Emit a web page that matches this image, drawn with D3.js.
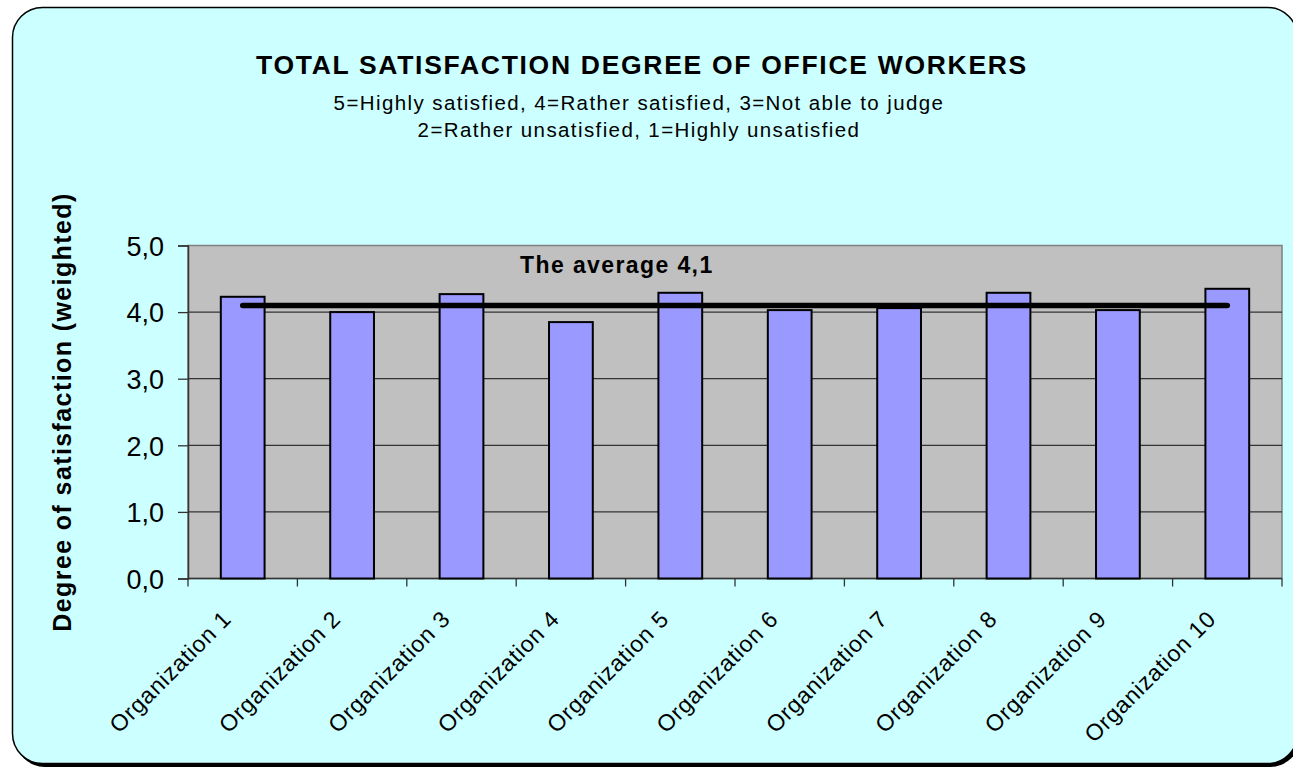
<!DOCTYPE html>
<html>
<head>
<meta charset="utf-8">
<script src="https://cdn.jsdelivr.net/npm/d3@7"></script>
<style>
  body { margin: 0; background: #ffffff; }
  text { font-family: Arial, "Liberation Sans", sans-serif; }
</style>
</head>
<body>
<div id="chart"></div>
<script>
// data
var categories = [
  "Organization 1", "Organization 2", "Organization 3", "Organization 4", "Organization 5",
  "Organization 6", "Organization 7", "Organization 8", "Organization 9", "Organization 10"
];
var satisfaction = [4.23, 4.0, 4.27, 3.85, 4.29, 4.03, 4.06, 4.29, 4.03, 4.35];
var average = [4.1, 4.1, 4.1, 4.1, 4.1, 4.1, 4.1, 4.1, 4.1, 4.1];
var yTicks = [0, 1, 2, 3, 4, 5];

const w = 1293;
const h = 768;
const margin = { top: 245.5, right: 7, bottom: 189.5, left: 188 };

var svg = d3.select("#chart")
  .append("svg")
  .attr("width", w)
  .attr("height", h);

// chart area with shadow
svg.append("rect")
  .attr("x", 15).attr("y", 10)
  .attr("width", 1285).attr("height", 757)
  .attr("rx", 30).attr("ry", 30)
  .attr("fill", "#000");
svg.append("rect")
  .attr("x", 12.5).attr("y", 7.5)
  .attr("width", 1285).attr("height", 756)
  .attr("rx", 30).attr("ry", 30)
  .attr("fill", "#ccffff")
  .attr("stroke", "#000")
  .attr("stroke-width", 1.5);

// titles
svg.append("text")
  .attr("x", 642).attr("y", 74)
  .attr("text-anchor", "middle")
  .attr("font-size", 26.5)
  .attr("font-weight", "bold")
  .attr("letter-spacing", 1.7)
  .text("TOTAL SATISFACTION DEGREE OF OFFICE WORKERS");

var subtitle = ["5=Highly satisfied, 4=Rather satisfied, 3=Not able to judge",
  "2=Rather unsatisfied, 1=Highly unsatisfied"];
svg.selectAll(".subtitle")
  .data(subtitle)
  .enter()
  .append("text")
  .attr("class", "subtitle")
  .attr("x", 639)
  .attr("y", function (d, i) { return 110 + i * 27; })
  .attr("text-anchor", "middle")
  .attr("font-size", 20.5)
  .attr("letter-spacing", 1.4)
  .text(function (d) { return d; });

var pw = w - margin.left - margin.right - 4;
var ph = h - margin.top - margin.bottom;

var x = d3.scaleBand()
  .domain(categories)
  .range([margin.left, margin.left + pw])
  .paddingInner(0.6)
  .paddingOuter(0.3);

var xEdge = d3.scaleLinear()
  .domain([0, categories.length])
  .range([margin.left, margin.left + pw]);

var y = d3.scaleLinear()
  .domain([0, 5])
  .range([margin.top + ph, margin.top]);

// plot area
svg.append("rect")
  .attr("x", margin.left).attr("y", margin.top)
  .attr("width", pw).attr("height", ph)
  .attr("fill", "#c0c0c0")
  .attr("stroke", "#808080")
  .attr("stroke-width", 1.5);

// gridlines
svg.append("g")
  .selectAll("line")
  .data(yTicks.slice(1, -1))
  .enter()
  .append("line")
  .attr("x1", margin.left).attr("x2", margin.left + pw)
  .attr("y1", function (d) { return y(d); })
  .attr("y2", function (d) { return y(d); })
  .attr("stroke", "#333")
  .attr("stroke-width", 1.3);

// y axis
var yAxis = svg.append("g")
  .attr("transform", "translate(" + margin.left + ",0)")
  .call(d3.axisLeft(y)
    .tickValues(yTicks)
    .tickSize(10)
    .tickPadding(14)
    .tickFormat(function (d) { return d3.format(".1f")(d).replace(".", ","); }));
yAxis.select(".domain").attr("stroke", "#333").attr("stroke-width", 1.5);
yAxis.selectAll(".tick line").attr("stroke", "#333").attr("stroke-width", 1.3);
yAxis.selectAll(".tick text")
  .attr("font-size", 27)
  .attr("font-family", "Arial, 'Liberation Sans', sans-serif")
  .attr("fill", "#000")
  .attr("dy", "0.36em");

// x axis with ticks between categories
svg.append("line")
  .attr("x1", margin.left).attr("x2", margin.left + pw)
  .attr("y1", y(0)).attr("y2", y(0))
  .attr("stroke", "#333").attr("stroke-width", 1.5);
svg.append("g")
  .selectAll("line")
  .data(d3.range(categories.length + 1))
  .enter()
  .append("line")
  .attr("x1", function (d) { return xEdge(d); })
  .attr("x2", function (d) { return xEdge(d); })
  .attr("y1", y(0)).attr("y2", y(0) + 8)
  .attr("stroke", "#333").attr("stroke-width", 1.3);

svg.append("g")
  .selectAll("text")
  .data(categories)
  .enter()
  .append("text")
  .attr("transform", function (d) {
    return "translate(" + (x(d) + x.bandwidth() / 2 - 10) + "," + (y(0) + 42) + ") rotate(-45)";
  })
  .attr("text-anchor", "end")
  .attr("font-size", 23)
  .attr("letter-spacing", 0.8)
  .text(function (d) { return d; });

// bars
svg.append("g")
  .selectAll("rect")
  .data(satisfaction)
  .enter()
  .append("rect")
  .attr("x", function (d, i) { return x(categories[i]); })
  .attr("y", function (d) { return y(d); })
  .attr("width", x.bandwidth())
  .attr("height", function (d) { return y(0) - y(d); })
  .attr("fill", "#9999ff")
  .attr("stroke", "#000")
  .attr("stroke-width", 2);

// average line
var line = d3.line()
  .x(function (d, i) { return x(categories[i]) + x.bandwidth() / 2; })
  .y(function (d) { return y(d); });

svg.append("path")
  .datum(average)
  .attr("d", line)
  .attr("fill", "none")
  .attr("stroke", "#000")
  .attr("stroke-width", 5.5)
  .attr("stroke-linecap", "round");

svg.append("text")
  .attr("x", 520).attr("y", 273)
  .attr("font-size", 23)
  .attr("font-weight", "bold")
  .attr("letter-spacing", 1.4)
  .text("The average 4,1");

// y axis title
svg.append("text")
  .attr("transform", "translate(71,412) rotate(-90)")
  .attr("text-anchor", "middle")
  .attr("font-size", 25)
  .attr("font-weight", "bold")
  .attr("letter-spacing", 1.4)
  .text("Degree of satisfaction (weighted)");
</script>
</body>
</html>
